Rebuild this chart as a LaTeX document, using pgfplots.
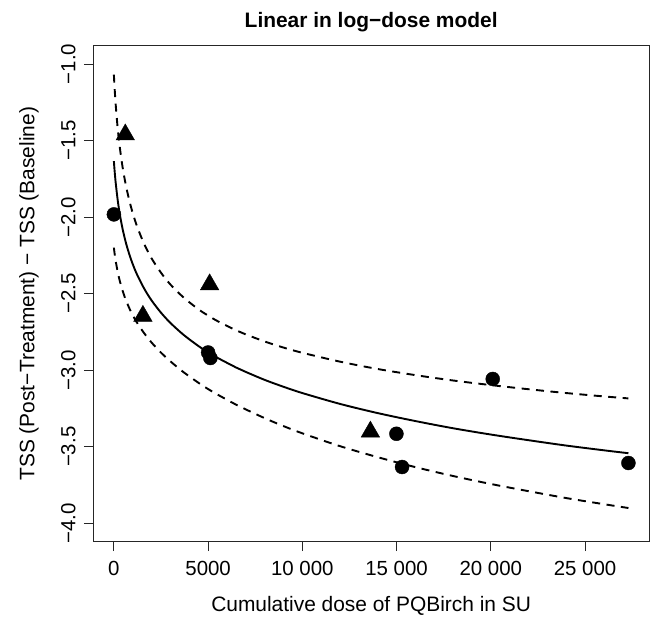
\documentclass[border=0pt]{standalone}
\usepackage{fontspec}
\setmainfont{Liberation Sans}
\usepackage{pgfplots}
\pgfplotsset{compat=1.18}
\begin{document}
\begin{tikzpicture}
\useasboundingbox (-93.3bp,-77.3bp) rectangle (557.7bp,541.7bp);
\begin{axis}[
  scale only axis, width=555.7bp, height=496bp,
  at={(0,0)}, anchor=south west,
  xmin=-1092, xmax=28392, ymin=-4.12, ymax=-0.88,
  axis line style={line width=1bp, black!85},
  scaled x ticks=false, scaled y ticks=false,
  xtick={0,5000,10000,15000,20000,25000},
  xticklabels={0,5000,10 000,15 000,20 000,25 000},
  ytick={-4,-3.5,-3,-2.5,-2,-1.5,-1},
  yticklabels={−4.0,−3.5,−3.0,−2.5,−2.0,−1.5,−1.0},
  xtick pos=lower, ytick pos=left,
  tick align=outside, major tick length=9.5bp,
  tick style={line width=1bp, black!85},
  xticklabel style={anchor=base, font=\fontsize{20.5}{24}\selectfont},
  yticklabel style={rotate=90, anchor=base, font=\fontsize{20.5}{24}\selectfont},
  xticklabel shift=24.7bp, yticklabel shift=8.3bp,
  title={Linear in log−dose model},
  title style={at={([yshift=12.7bp]axis description cs:0.5,1)}, anchor=base, font=\bfseries\fontsize{21}{24}\selectfont},
  xlabel={Cumulative dose of PQBirch in SU},
  xlabel style={at={([yshift=-70bp]axis description cs:0.5,0)}, anchor=base, font=\fontsize{21}{24}\selectfont},
  ylabel={TSS (Post−Treatment) − TSS (Baseline)},
  ylabel style={at={([xshift=-58.8bp]axis description cs:0,0.5)}, anchor=base, font=\fontsize{21}{24}\selectfont},
  clip=false,
]
% fitted line
\addplot[black, line width=1.9bp, no marks, smooth, tension=0.5] coordinates {
(0,-1.634) (10,-1.651) (25,-1.676) (50,-1.714) (100,-1.780) (200,-1.886) (300,-1.970) (450,-2.070)
(650,-2.173) (900,-2.273) (1200,-2.367) (1600,-2.465) (2000,-2.544) (2500,-2.624)
(3000,-2.691) (3700,-2.769) (4500,-2.843) (5000,-2.883) (5500,-2.919) (6500,-2.983) (7000,-3.011) (8000,-3.063)
(9000,-3.108) (10000,-3.149) (12000,-3.220) (14000,-3.280) (16000,-3.332) (18000,-3.379)
(20000,-3.420) (22000,-3.457) (24000,-3.492) (26000,-3.523) (27300,-3.542)
};
% upper band
\addplot[black, line width=1.9bp, dash pattern=on 8bp off 6.5bp, no marks, smooth, tension=0.5] coordinates {
(0,-1.069) (10,-1.093) (25,-1.128) (50,-1.180) (100,-1.271) (200,-1.417) (300,-1.530) (450,-1.664)
(650,-1.800) (900,-1.930) (1200,-2.050) (1600,-2.173) (2000,-2.269) (2500,-2.363)
(3000,-2.440) (3700,-2.525) (4500,-2.603) (5000,-2.643) (5500,-2.679) (6500,-2.740) (7000,-2.766) (8000,-2.812)
(9000,-2.852) (10000,-2.886) (12000,-2.944) (14000,-2.992) (16000,-3.032) (18000,-3.067)
(20000,-3.097) (22000,-3.124) (24000,-3.149) (26000,-3.171) (27300,-3.184)
};
% lower band
\addplot[black, line width=1.9bp, dash pattern=on 8bp off 6.5bp, no marks, smooth, tension=0.5] coordinates {
(0,-2.199) (10,-2.209) (25,-2.225) (50,-2.248) (100,-2.289) (200,-2.356) (300,-2.410) (450,-2.476)
(650,-2.546) (900,-2.616) (1200,-2.684) (1600,-2.757) (2000,-2.819) (2500,-2.885)
(3000,-2.942) (3700,-3.013) (4500,-3.083) (5000,-3.123) (5500,-3.159) (6500,-3.226) (7000,-3.256) (8000,-3.313)
(9000,-3.365) (10000,-3.412) (12000,-3.496) (14000,-3.568) (16000,-3.633) (18000,-3.691)
(20000,-3.743) (22000,-3.790) (24000,-3.835) (26000,-3.875) (27300,-3.900)
};
% circles
\addplot[only marks, mark=*, mark size=7bp, mark options={fill=black, draw=none}] coordinates {
(0,-1.982) (5000,-2.884) (5120,-2.920) (20100,-3.057) (14990,-3.415) (15290,-3.632) (27300,-3.606)
};
% triangles
\addplot[only marks, mark=triangle*, mark size=10.7bp, mark options={fill=black, draw=none}] coordinates {
(605,-1.461) (1540,-2.646) (5080,-2.440) (13610,-3.402)
};
\end{axis}
\end{tikzpicture}
\end{document}
